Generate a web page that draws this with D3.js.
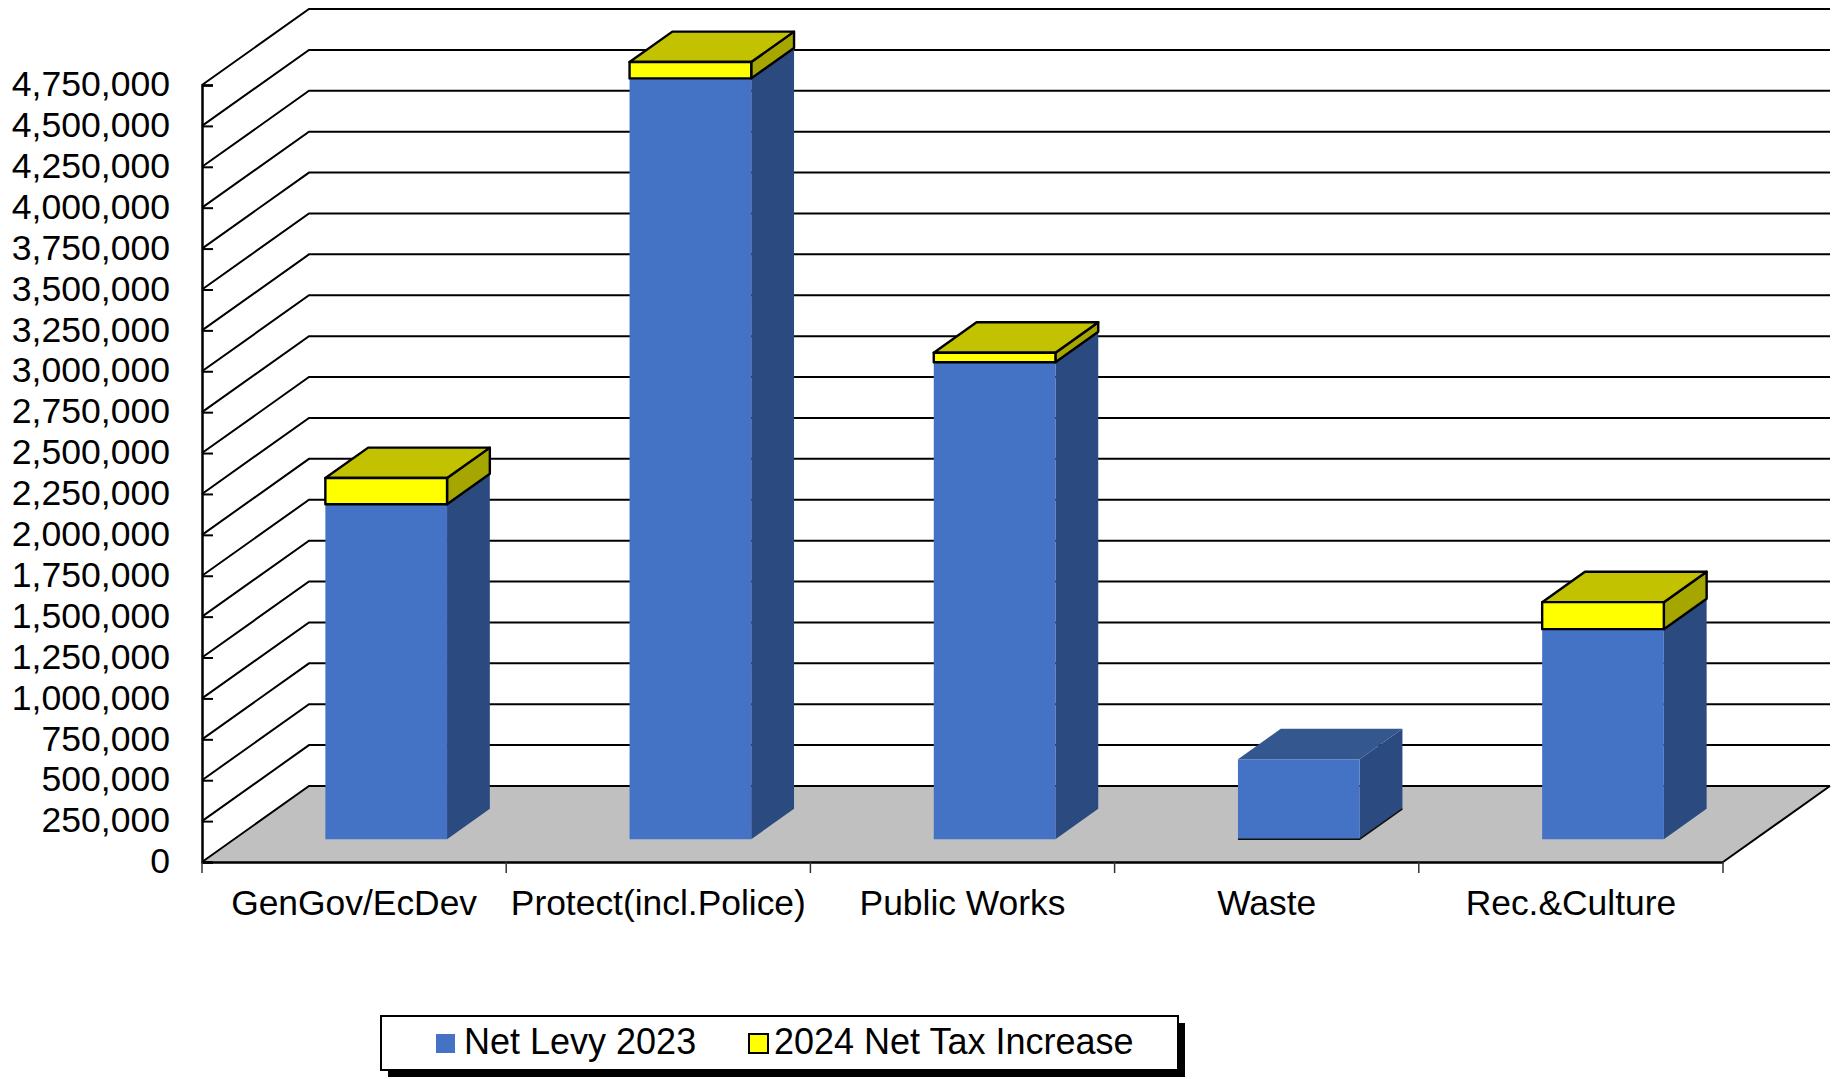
<!DOCTYPE html>
<html>
<head>
<meta charset="utf-8">
<title>Net levy by department</title>
<script src="https://cdn.jsdelivr.net/npm/d3@7/dist/d3.min.js"></script>
<style>
  html, body { margin: 0; padding: 0; background: #fff; }
  svg { display: block; }
  text { font-family: "Liberation Sans", Arial, sans-serif; fill: #000; }
</style>
</head>
<body>
<svg id="chart" width="1842" height="1079"></svg>
<script>
const categories = ["GenGov/EcDev", "Protect(incl.Police)", "Public Works", "Waste", "Rec.&Culture"];
const netLevy2023 = [2048000, 4651000, 2916000, 489000, 1284000];
const netTaxIncrease2024 = [160000, 100000, 58000, 0, 165000];
const legendLabels = ["Net Levy 2023", "2024 Net Tax Increase"];
const tickStep = 250000;
const axisMax = 4750000;

const svg = d3.select("#chart");

// Scales: category and value axes, plus the depth axis of the 3D box
const x = d3.scaleBand().domain(categories).range([202, 1723]).paddingInner(0.6).paddingOuter(0.3);
const y = d3.scaleLinear().domain([0, axisMax]).range([862, 85]);
const depthX = d3.scaleLinear().domain([0, 1]).range([0, 107]);
const depthY = d3.scaleLinear().domain([0, 1]).range([0, -76]);
const barDepth = [0.3, 0.7];

// Project a point (plot x, value, depth fraction) on to the screen
const pt = (px, value, d) => [px + depthX(d), y(value) + depthY(d)];
const poly = pts => d3.line()(pts) + "Z";

const ticks = d3.range(0, axisMax + 1, tickStep);
const [x0, x1] = x.range();

// Floor
svg.append("path")
  .attr("d", poly([pt(x0, 0, 0), pt(x1, 0, 0), pt(x1, 0, 1), pt(x0, 0, 1)]))
  .attr("fill", "#c0c0c0");

// Gridlines running along the side wall and back wall
svg.append("g").selectAll("path").data(ticks).join("path")
  .attr("d", v => d3.line()([pt(x0, v, 0), pt(x0, v, 1), pt(x1, v, 1)]))
  .attr("fill", "none")
  .attr("stroke", "#000")
  .attr("stroke-width", 2);

// Floor front-right edge
svg.append("path")
  .attr("d", d3.line()([pt(x1, 0, 0), pt(x1, 0, 1)]))
  .attr("stroke", "#000").attr("stroke-width", 2).attr("fill", "none");

// Value axis
const yAxis = svg.append("g")
  .attr("transform", `translate(${x0},0)`)
  .call(d3.axisLeft(y).tickValues(ticks).tickSize(-11).tickPadding(32)
    .tickFormat(d3.format(",")));
yAxis.select(".domain").attr("stroke", "#000").attr("stroke-width", 2.5);
yAxis.selectAll(".tick line").attr("stroke", "#000").attr("stroke-width", 2);
yAxis.selectAll("text").attr("font-size", 35.6).attr("fill", "#000").attr("dy", "0.3em")
  .style("font-family", '"Liberation Sans", Arial, sans-serif');

// Category axis: labels sit at the band centres, tick marks at the band edges
const xAxis = svg.append("g")
  .attr("transform", `translate(0,${y(0)})`)
  .call(d3.axisBottom(x).tickSize(0).tickPadding(36));
xAxis.select(".domain").attr("stroke", "#000").attr("stroke-width", 2.5);
xAxis.selectAll("text").attr("font-size", 35.4).attr("fill", "#000").attr("dy", 0).attr("y", 53)
  .style("font-family", '"Liberation Sans", Arial, sans-serif');
svg.append("g").selectAll("line").data(d3.range(categories.length + 1)).join("line")
  .attr("x1", i => x0 + i * x.step()).attr("x2", i => x0 + i * x.step())
  .attr("y1", y(0)).attr("y2", y(0) + 11)
  .attr("stroke", "#333").attr("stroke-width", 1.5);

// One 3D box between two values
function drawBox(g, left, right, lo, hi, colors, stroke) {
  const [dA, dB] = barDepth;
  const faces = [
    { fill: colors.side, pts: [pt(right, lo, dA), pt(right, lo, dB), pt(right, hi, dB), pt(right, hi, dA)] },
    { fill: colors.top, pts: [pt(left, hi, dA), pt(right, hi, dA), pt(right, hi, dB), pt(left, hi, dB)] },
    { fill: colors.front, pts: [pt(left, lo, dA), pt(right, lo, dA), pt(right, hi, dA), pt(left, hi, dA)] }
  ];
  g.selectAll(null).data(faces).join("path")
    .attr("d", f => poly(f.pts))
    .attr("fill", f => f.fill)
    .attr("stroke", stroke || "none")
    .attr("stroke-width", stroke ? 2.4 : 0)
    .attr("stroke-linejoin", "round");
}

const blue = { front: "#4472c4", side: "#2a4a80", top: "#34578f" };
const yellow = { front: "#ffff00", side: "#a6a600", top: "#c2c200" };
const blueNoCap = { front: "#4472c4", side: "#2a4a80", top: "#4472c4" };

categories.forEach((c, i) => {
  const g = svg.append("g");
  const left = x(c), right = left + x.bandwidth();
  const base = netLevy2023[i], inc = netTaxIncrease2024[i];
  drawBox(g, left, right, 0, base, inc > 0 ? blueNoCap : blue);
  if (inc > 0) {
    drawBox(g, left, right, base, base + inc, yellow, "#000");
  } else {
    // A bar with no increase keeps the dark base edge
    g.append("path")
      .attr("d", d3.line()([pt(left, 0, barDepth[0]), pt(right, 0, barDepth[0]), pt(right, 0, barDepth[1])]))
      .attr("fill", "none").attr("stroke", "#111").attr("stroke-width", 1.5);
  }
});

// Legend with drop shadow
const legend = svg.append("g");
legend.append("rect").attr("x", 388).attr("y", 1023).attr("width", 797).attr("height", 54).attr("fill", "#000");
legend.append("rect").attr("x", 381).attr("y", 1016).attr("width", 797).attr("height", 54)
  .attr("fill", "#fff").attr("stroke", "#000").attr("stroke-width", 2);
legend.append("rect").attr("x", 436).attr("y", 1034).attr("width", 19).attr("height", 19).attr("fill", blue.front);
legend.append("rect").attr("x", 749).attr("y", 1034).attr("width", 19).attr("height", 19)
  .attr("fill", yellow.front).attr("stroke", "#000").attr("stroke-width", 2);
legend.selectAll("text.label").data(legendLabels).join("text")
  .attr("class", "label")
  .attr("x", (d, i) => [464, 774][i])
  .attr("y", 1054)
  .attr("font-size", 36)
  .text(d => d);
</script>
</body>
</html>
